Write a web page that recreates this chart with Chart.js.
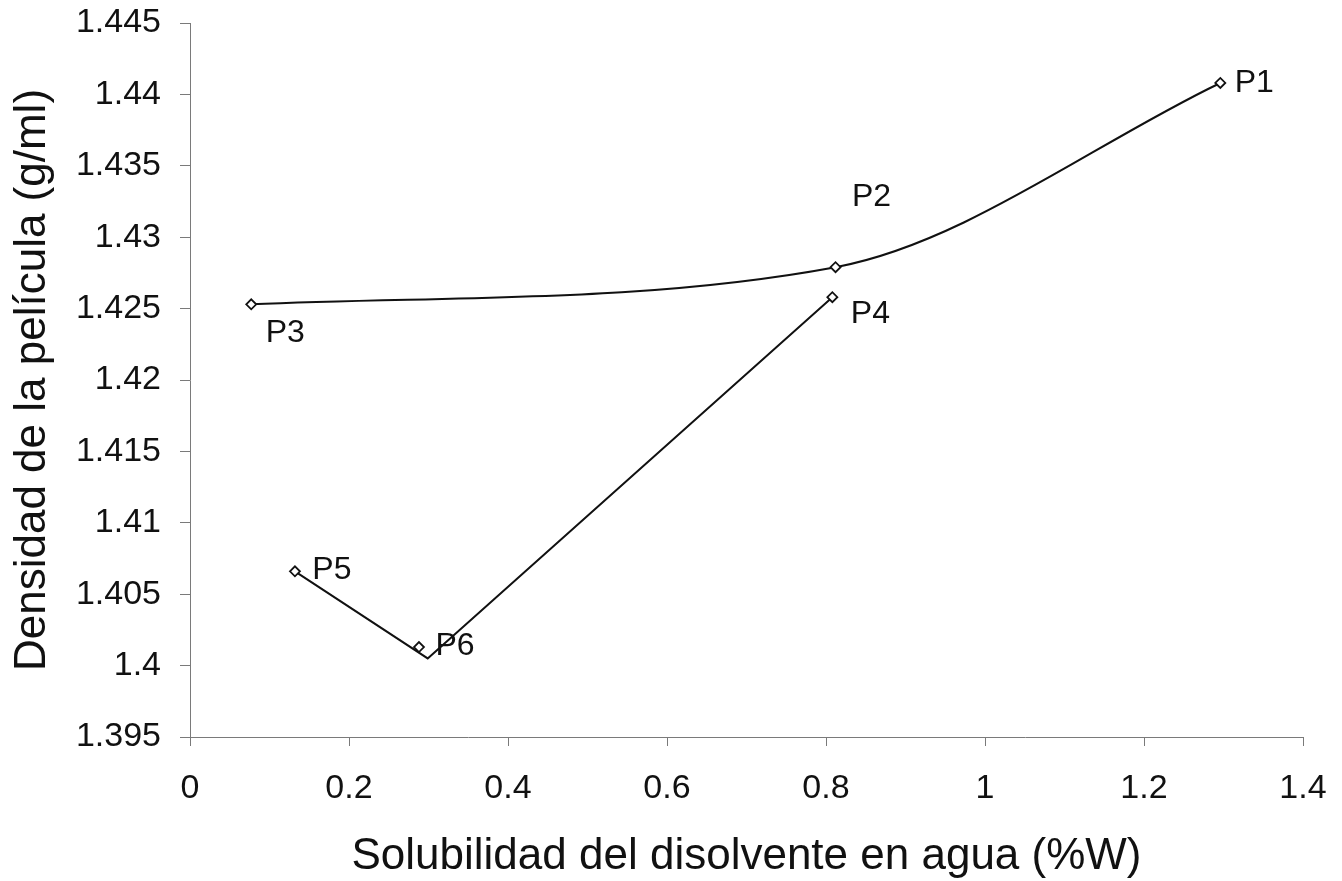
<!DOCTYPE html>
<html>
<head>
<meta charset="utf-8">
<script src="https://cdn.jsdelivr.net/npm/chart.js@4/dist/chart.umd.min.js"></script>
<style>
  html, body { margin:0; padding:0; background:#fff; }
  canvas { display:block; }
</style>
</head>
<body>
<canvas id="densChart" width="1342" height="881"></canvas>
<script>
/* data */
const upperNames = ["P3", "P2", "P1"];
const upperX     = [0.077, 0.812, 1.296];
const upperY     = [1.4253, 1.4279, 1.4408];

const lowerNames = ["P5", "P6", "P4"];
const lowerX     = [0.132, 0.288, 0.808];
const lowerY     = [1.4066, 1.4013, 1.4258];

/* the drawn lower line misses P6 slightly and bends just under it */
const lowerLineX = [0.132, 0.299, 0.808];
const lowerLineY = [1.4066, 1.4005, 1.4258];

const xTicks = [0, 0.2, 0.4, 0.6, 0.8, 1, 1.2, 1.4];
const xTickLabels = ["0", "0.2", "0.4", "0.6", "0.8", "1", "1.2", "1.4"];
const yTicks = [1.395, 1.4, 1.405, 1.41, 1.415, 1.42, 1.425, 1.43, 1.435, 1.44, 1.445];
const yTickLabels = ["1.395", "1.4", "1.405", "1.41", "1.415", "1.42", "1.425", "1.43", "1.435", "1.44", "1.445"];

const xTitle = "Solubilidad del disolvente en agua (%W)";
const yTitle = "Densidad de la película (g/ml)";

/* label offsets in px from each marker (centre of text) */
const upperLabelOffsets = [[34, 29], [36, -70], [34, 0]];
const lowerLabelOffsets = [[37, -1], [36, -1], [38, 17]];

const FONT = "'Liberation Sans', Arial, sans-serif";
const INK  = "#111";
const AXIS = "#7a7a7a";

const toPts = (xs, ys) => xs.map((x, i) => ({x, y: ys[i]}));

const marker = {
  pointStyle: "rectRot",
  pointRadius: 5,
  pointBackgroundColor: "#fff",
  pointBorderColor: INK,
  pointBorderWidth: 1.8
};

/* P-labels next to the points */
const pointLabels = {
  id: "pointLabels",
  afterDatasetsDraw(chart) {
    const {ctx, scales:{x, y}} = chart;
    const put = (xs, ys, names, offs) => {
      names.forEach((n, i) => {
        ctx.fillText(n, x.getPixelForValue(xs[i]) + offs[i][0],
                        y.getPixelForValue(ys[i]) + offs[i][1]);
      });
    };
    ctx.save();
    ctx.font = "32px " + FONT;
    ctx.fillStyle = INK;
    ctx.textAlign = "center";
    ctx.textBaseline = "middle";
    put(upperX, upperY, upperNames, upperLabelOffsets);
    put(lowerX, lowerY, lowerNames, lowerLabelOffsets);
    ctx.restore();
  }
};

new Chart(document.getElementById("densChart"), {
  type: "scatter",
  data: {
    datasets: [
      Object.assign({
        data: toPts(upperX, upperY),
        showLine: true,
        borderColor: INK,
        borderWidth: 2,
        cubicInterpolationMode: "monotone",
        order: 1
      }, marker),
      Object.assign({
        data: toPts(lowerX, lowerY),
        showLine: false,
        order: 0
      }, marker),
      {
        data: toPts(lowerLineX, lowerLineY),
        showLine: true,
        borderColor: INK,
        borderWidth: 2,
        tension: 0,
        pointRadius: 0,
        order: 2
      }
    ]
  },
  options: {
    responsive: false,
    animation: false,
    layout: { padding: 0 },
    plugins: { legend: { display: false }, tooltip: { enabled: false } },
    scales: {
      x: {
        type: "linear",
        min: 0, max: 1.4,
        afterBuildTicks: s => { s.ticks = xTicks.map(v => ({value: v})); },
        afterFit: s => {
          s.height = 144;
          s.paddingLeft = 0;
          s.paddingRight = 39;
        },
        ticks: {
          font: { family: FONT, size: 34 },
          color: INK,
          padding: 22,
          maxRotation: 0,
          autoSkip: false,
          callback: (v, i) => xTickLabels[i]
        },
        grid: { drawOnChartArea: false, drawTicks: true, tickLength: 9, color: AXIS },
        border: { display: true, color: AXIS, width: 1 },
        title: {
          display: true, text: xTitle, color: INK,
          font: { family: FONT, size: 44, lineHeight: 1 },
          padding: { top: 0, bottom: 2 }
        }
      },
      y: {
        type: "linear",
        min: 1.395, max: 1.445,
        afterBuildTicks: s => { s.ticks = yTicks.map(v => ({value: v})); },
        afterFit: s => {
          s.width = 190;
          s.paddingTop = 23;
          s.paddingBottom = 0;
        },
        ticks: {
          font: { family: FONT, size: 34 },
          color: INK,
          padding: 19,
          autoSkip: false,
          callback: (v, i) => yTickLabels[i]
        },
        grid: { drawOnChartArea: false, drawTicks: true, tickLength: 10, color: AXIS },
        border: { display: true, color: AXIS, width: 1 },
        title: {
          display: true, text: yTitle, color: INK,
          font: { family: FONT, size: 44, lineHeight: 1 },
          padding: { top: 11, bottom: 0 }
        }
      }
    }
  },
  plugins: [pointLabels]
});
</script>
</body>
</html>
